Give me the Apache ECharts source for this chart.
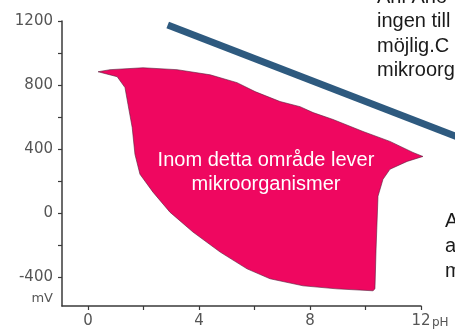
<!DOCTYPE html>
<html>
<head>
<meta charset="utf-8">
<script src="https://cdn.jsdelivr.net/npm/echarts@6/dist/echarts.min.js"></script>
<style>
  html, body { margin: 0; padding: 0; background: #fff; }
  #main { width: 455px; height: 329px; }
</style>
</head>
<body>
<div id="main"></div>
<script>
// outline of the living zone (pH, mV), clockwise from top-left tip
const areaPh = [0.36, 0.79, 1.98, 3.21, 4.40, 5.37, 6.02, 6.92, 7.64, 8.11, 8.83, 9.91, 10.88, 11.71, 12.07,
  11.50, 10.88, 10.63, 10.45, 10.38, 10.34, 10.27, 8.97, 7.75, 6.56, 5.73, 4.76, 3.78, 2.95, 2.34,
  1.87, 1.69, 1.59, 1.44, 1.33, 1.05];
const areaMv = [883, 896, 908, 896, 864, 815, 759, 697, 665, 628, 585, 510, 448, 379, 354,
  323, 274, 211, 106, -224, -473, -485, -473, -454, -410, -348, -243, -118, 6, 131,
  243, 367, 535, 678, 784, 852];

// blue diagonal line
const linePh = [2.87, 13.6];
const lineMv = [1175, 457];

const xLabelValues = [0, 4, 8, 12];
const xTickValues = [0, 2, 4, 6, 8, 10, 12];
const yLabelValues = [-400, 0, 400, 800, 1200];
const yTickValues = [-400, -200, 0, 200, 400, 600, 800, 1000, 1200];

const axisColor = "#3a3a3a";
const labelColor = "#555";
const axisFont = "DejaVu Sans";
const textFont = "Liberation Sans";

let myChart = echarts.init(document.getElementById("main"), null, { renderer: "canvas" });

let option = {
  animation: false,
  grid: { left: 62, right: 34, top: 21, bottom: 22 },
  xAxis: {
    type: "value",
    min: -0.94,
    max: 12,
    splitLine: { show: false },
    axisLine: { show: true, onZero: false, lineStyle: { color: axisColor, width: 1.5 } },
    axisTick: { show: true, customValues: xTickValues, length: 4, lineStyle: { color: axisColor, width: 1.2 } },
    axisLabel: {
      customValues: xLabelValues,
      formatter: (v) => String(v),
      margin: 8,
      color: labelColor,
      fontFamily: axisFont,
      fontSize: 15,
    },
  },
  yAxis: {
    type: "value",
    min: -580,
    max: 1200,
    splitLine: { show: false },
    axisLine: { show: true, onZero: false, lineStyle: { color: axisColor, width: 1.5 } },
    axisTick: { show: true, customValues: yTickValues, length: 4, lineStyle: { color: axisColor, width: 1.2 } },
    axisLabel: {
      customValues: yLabelValues,
      formatter: (v) => String(v),
      margin: 9,
      color: labelColor,
      fontFamily: axisFont,
      fontSize: 15,
    },
  },
  series: [
    {
      type: "custom",
      silent: true,
      data: [0],
      renderItem: (params, api) => {
        let pts = areaPh.map((x, i) => api.coord([x, areaMv[i]]));
        return {
          type: "polygon",
          shape: { points: pts },
          style: { fill: "#ef0760", stroke: "rgba(90,30,60,0.6)", lineWidth: 1 },
        };
      },
    },
    {
      type: "custom",
      silent: true,
      clip: false,
      data: [0],
      z: 5,
      renderItem: (params, api) => {
        let pts = linePh.map((x, i) => api.coord([x, lineMv[i]]));
        return {
          type: "polyline",
          shape: { points: pts },
          style: { fill: null, stroke: "#2e5a7f", lineWidth: 7 },
        };
      },
    },
  ],
  graphic: [
    // axis units
    { type: "text", x: 53, y: 299, style: { text: "mV", fill: labelColor, font: "13px " + axisFont, align: "right", verticalAlign: "middle" } },
    { type: "text", x: 432, y: 323, style: { text: "pH", fill: labelColor, font: "12px " + axisFont, align: "left", verticalAlign: "middle" } },
    // label inside the zone
    { type: "text", x: 266, y: 160, z: 10, style: { text: "Inom detta område lever", fill: "#fff", font: "20px " + textFont, align: "center", verticalAlign: "middle" } },
    { type: "text", x: 266, y: 184, z: 10, style: { text: "mikroorganismer", fill: "#fff", font: "20px " + textFont, align: "center", verticalAlign: "middle" } },
    // cut-off notes on the right
    { type: "text", x: 377, y: -3, style: { text: "Anl Ano", fill: "#1a1a1a", font: "20px " + textFont, verticalAlign: "middle" } },
    { type: "text", x: 377, y: 21.5, style: { text: "ingen till", fill: "#1a1a1a", font: "20px " + textFont, verticalAlign: "middle" } },
    { type: "text", x: 377, y: 46, style: { text: "möjlig.C", fill: "#1a1a1a", font: "20px " + textFont, verticalAlign: "middle" } },
    { type: "text", x: 377, y: 70.5, style: { text: "mikroorg", fill: "#1a1a1a", font: "20px " + textFont, verticalAlign: "middle" } },
    { type: "text", x: 445, y: 221, style: { text: "A", fill: "#1a1a1a", font: "20px " + textFont, verticalAlign: "middle" } },
    { type: "text", x: 445, y: 246, style: { text: "a", fill: "#1a1a1a", font: "20px " + textFont, verticalAlign: "middle" } },
    { type: "text", x: 445, y: 271, style: { text: "m", fill: "#1a1a1a", font: "20px " + textFont, verticalAlign: "middle" } },
  ],
};
myChart.setOption(option);
</script>
</body>
</html>
